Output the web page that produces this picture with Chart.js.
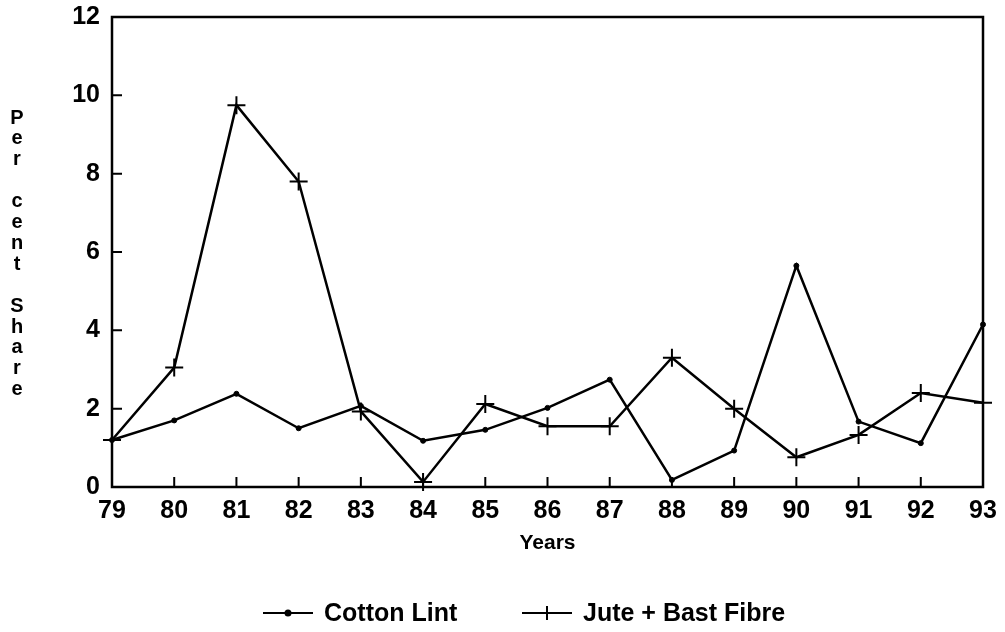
<!DOCTYPE html>
<html>
<head>
<meta charset="utf-8">
<script src="https://cdn.jsdelivr.net/npm/chart.js@4.4.1/dist/chart.umd.min.js"></script>
<style>
    body { margin: 0; background: #fff; }
    #wrap { width: 1005px; height: 632px; }
</style>
</head>
<body>
<div id="wrap"><canvas id="chartShare" width="1005" height="632"></canvas></div>
<script>
// data
const years = ['79', '80', '81', '82', '83', '84', '85', '86', '87', '88', '89', '90', '91', '92', '93']
const cottonLint = [1.2, 1.7, 2.38, 1.5, 2.07, 1.18, 1.46, 2.02, 2.74, 0.18, 0.93, 5.65, 1.67, 1.12, 4.15]
const juteBast = [1.2, 3.05, 9.75, 7.8, 1.93, 0.13, 2.12, 1.55, 1.55, 3.3, 2.0, 0.76, 1.33, 2.4, 2.15]
const yTicks = [0, 2, 4, 6, 8, 10, 12]
const yTitle = ['P', 'e', 'r', '', 'c', 'e', 'n', 't', '', 'S', 'h', 'a', 'r', 'e']
const legendNames = ['Cotton Lint', 'Jute + Bast Fibre']

const ink = '#000'
const fontFamily = '"Liberation Sans", Arial, Helvetica, sans-serif'

// box, inward ticks, stacked y title and legend
const framePlugin = {
    id: 'frame',
    afterDraw(chart) {
        const ctx = chart.ctx
        const area = chart.chartArea
        const x = chart.scales.x
        const y = chart.scales.y
        ctx.save()
        ctx.strokeStyle = ink
        ctx.lineWidth = 2.5
        ctx.strokeRect(area.left, area.top, area.right - area.left, area.bottom - area.top)

        ctx.lineWidth = 2
        ctx.beginPath()
        yTicks.forEach(function(v) {
            let py = y.getPixelForValue(v)
            ctx.moveTo(area.left, py)
            ctx.lineTo(area.left + 10, py)
        })
        years.forEach(function(label, i) {
            let px = x.getPixelForValue(i)
            ctx.moveTo(px, area.bottom)
            ctx.lineTo(px, area.bottom - 10)
        })
        ctx.stroke()

        // vertical stacked axis title
        ctx.fillStyle = ink
        ctx.font = 'bold 20px ' + fontFamily
        ctx.textAlign = 'center'
        ctx.textBaseline = 'middle'
        yTitle.forEach(function(ch, i) {
            ctx.fillText(ch, 17, 118 + i * 20.9)
        })

        // legend
        const legendY = 613
        const items = [{ x: 263 }, { x: 522 }]
        ctx.font = 'bold 25px ' + fontFamily
        ctx.textAlign = 'left'
        items.forEach(function(item, i) {
            let ds = chart.data.datasets[i]
            ctx.strokeStyle = ink
            ctx.lineWidth = 2
            ctx.beginPath()
            ctx.moveTo(item.x, legendY)
            ctx.lineTo(item.x + 50, legendY)
            ctx.stroke()
            Chart.helpers.drawPoint(ctx, {
                pointStyle: ds.pointStyle,
                radius: i == 0 ? 2.5 : 7,
                borderWidth: 2,
                rotation: 0
            }, item.x + 25, legendY)
            ctx.fillText(legendNames[i], item.x + 61, legendY + 1)
        })
        ctx.restore()
    }
}

var ctx = document.getElementById('chartShare').getContext('2d')
var chart = new Chart(ctx, {
    type: 'line',
    data: {
        labels: years,
        datasets: [{
            label: legendNames[0],
            data: cottonLint,
            borderColor: ink,
            backgroundColor: ink,
            borderWidth: 2.5,
            pointStyle: 'circle',
            pointRadius: 2.5,
            pointBorderWidth: 1,
            tension: 0,
            clip: false
        }, {
            label: legendNames[1],
            data: juteBast,
            borderColor: ink,
            backgroundColor: ink,
            borderWidth: 2.5,
            pointStyle: 'cross',
            pointRadius: 9,
            pointBorderWidth: 2,
            tension: 0,
            clip: false
        }]
    },
    options: {
        responsive: false,
        animation: false,
        events: [],
        layout: {
            padding: { left: 0, top: 17, right: 22, bottom: 76 }
        },
        plugins: {
            legend: { display: false },
            tooltip: { enabled: false }
        },
        scales: {
            x: {
                offset: false,
                grid: { display: false, drawTicks: false },
                border: { display: false },
                ticks: {
                    color: ink,
                    padding: 9,
                    maxRotation: 0,
                    autoSkip: false,
                    font: { family: fontFamily, size: 25, weight: 'bold' }
                },
                title: {
                    display: true,
                    text: 'Years',
                    color: ink,
                    padding: { top: 4, bottom: 0 },
                    font: { family: fontFamily, size: 21, weight: 'bold' }
                },
                afterFit: function(scale) {
                    scale.height = 69
                    scale.paddingLeft = 0
                    scale.paddingRight = 0
                }
            },
            y: {
                min: 0,
                max: 12,
                grid: { display: false, drawTicks: false },
                border: { display: false },
                ticks: {
                    stepSize: 2,
                    color: ink,
                    padding: 12,
                    font: { family: fontFamily, size: 25, weight: 'bold' }
                },
                afterFit: function(scale) {
                    scale.width = 112
                    scale.paddingTop = 0
                    scale.paddingBottom = 0
                }
            }
        }
    },
    plugins: [framePlugin]
})
</script>
</body>
</html>
